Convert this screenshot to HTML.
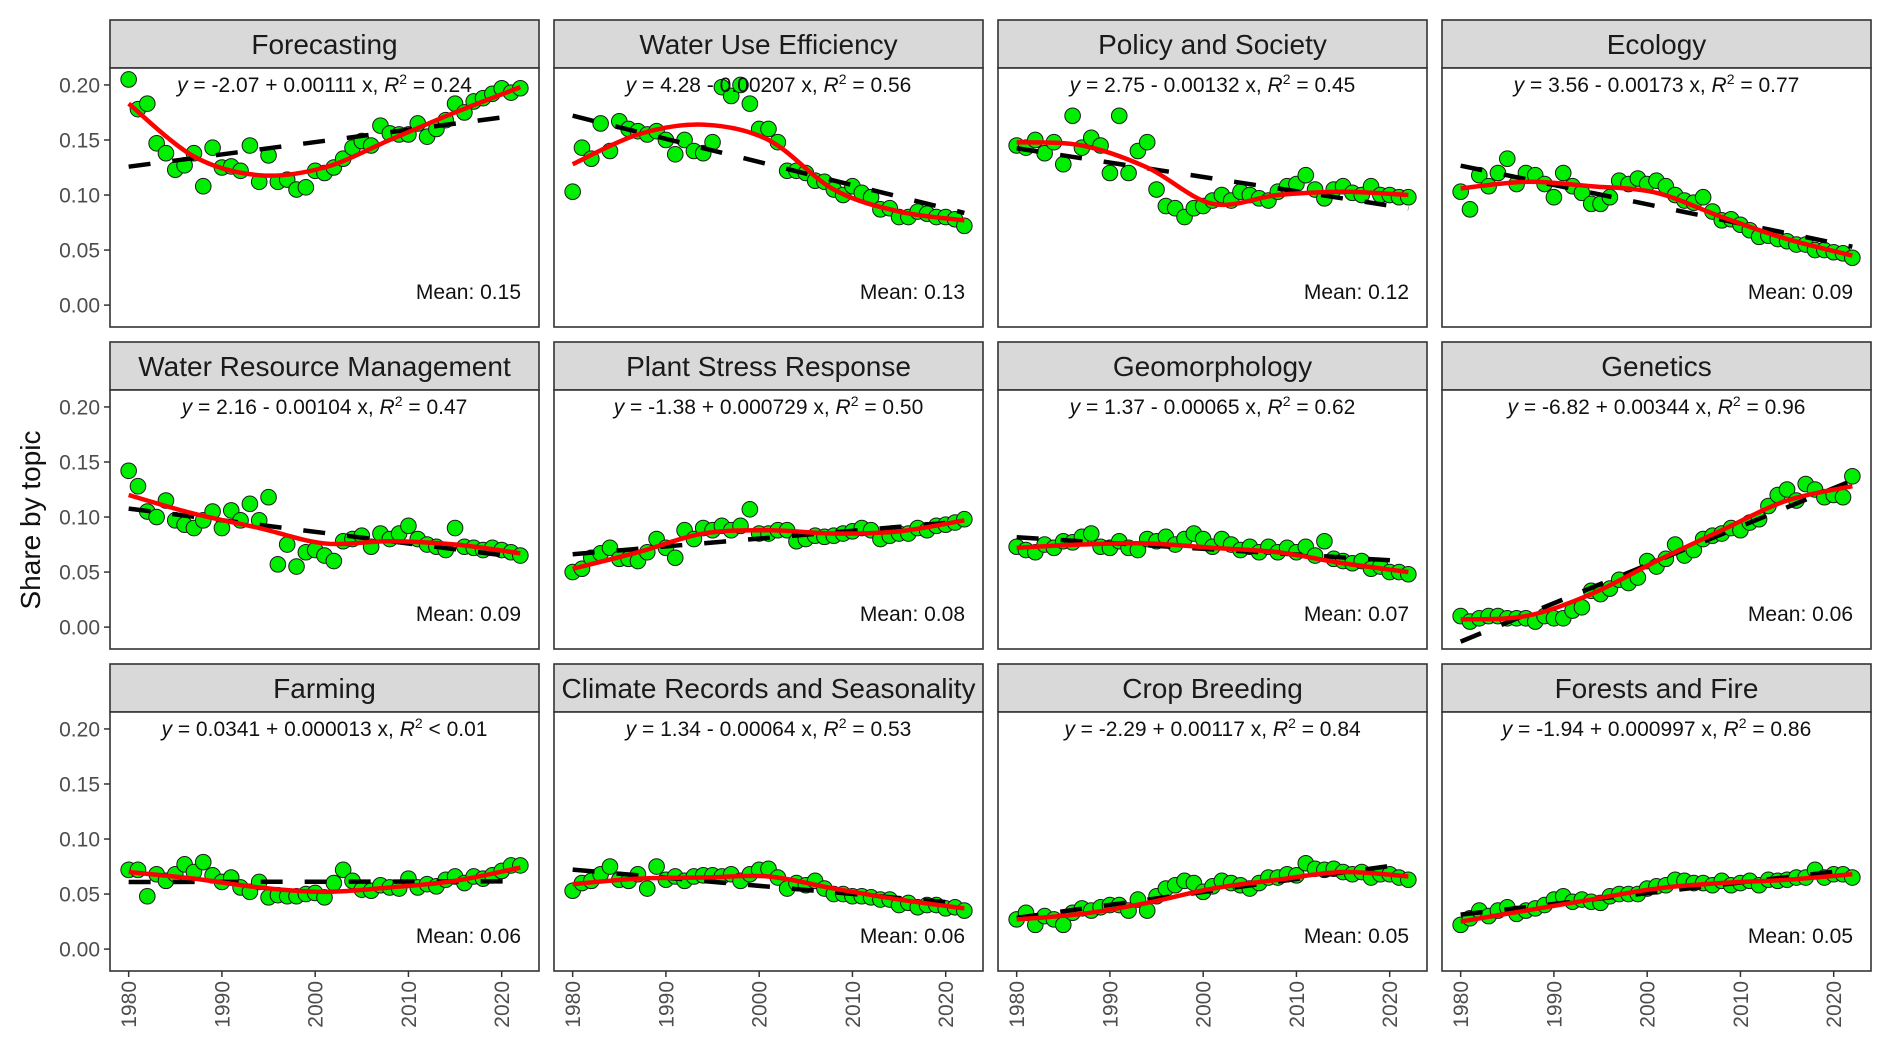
<!DOCTYPE html>
<html><head><meta charset="utf-8"><style>
html,body{margin:0;padding:0;background:#fff;}
svg{display:block;font-family:"Liberation Sans",Arial,sans-serif;}
</style></head><body>
<svg id="chart" width="1892" height="1052" viewBox="0 0 1892 1052" xmlns="http://www.w3.org/2000/svg">
<text x="0" y="0" transform="translate(40,520) rotate(-90)" text-anchor="middle" font-size="28" fill="#111">Share by topic</text>
</svg>
<script>
const years = [];
for (let y = 1980; y <= 2022; y++) years.push(y);
const titles = ["Forecasting","Water Use Efficiency","Policy and Society","Ecology","Water Resource Management","Plant Stress Response","Geomorphology","Genetics","Farming","Climate Records and Seasonality","Crop Breeding","Forests and Fire"];
const eqText = ["-2.07 + 0.00111 x","4.28 - 0.00207 x","2.75 - 0.00132 x","3.56 - 0.00173 x","2.16 - 0.00104 x","-1.38 + 0.000729 x","1.37 - 0.00065 x","-6.82 + 0.00344 x","0.0341 + 0.000013 x","1.34 - 0.00064 x","-2.29 + 0.00117 x","-1.94 + 0.000997 x"];
const r2Text = ["= 0.24","= 0.56","= 0.45","= 0.77","= 0.47","= 0.50","= 0.62","= 0.96","< 0.01","= 0.53","= 0.84","= 0.86"];
const meanText = ["0.15","0.13","0.12","0.09","0.09","0.08","0.07","0.06","0.06","0.06","0.05","0.05"];
const yTicks = [0.00, 0.05, 0.10, 0.15, 0.20];
const xTicks = [1980, 1990, 2000, 2010, 2020];
const smoothYears = [1980, 1987, 1994, 2001, 2008, 2015, 2022];
const s0 = [0.205,0.178,0.183,0.147,0.138,0.123,0.127,0.138,0.108,0.143,0.125,0.126,0.122,0.145,0.112,0.136,0.112,0.114,0.105,0.107,0.122,0.120,0.125,0.133,0.143,0.149,0.145,0.163,0.156,0.155,0.155,0.165,0.153,0.160,0.168,0.183,0.175,0.185,0.188,0.192,0.197,0.193,0.197];
const s1 = [0.103,0.143,0.133,0.165,0.140,0.167,0.160,0.158,0.155,0.158,0.150,0.137,0.150,0.140,0.138,0.148,0.198,0.190,0.200,0.183,0.160,0.160,0.148,0.122,0.122,0.120,0.113,0.112,0.105,0.100,0.108,0.102,0.098,0.087,0.088,0.080,0.080,0.085,0.083,0.080,0.080,0.078,0.072];
const s2 = [0.145,0.143,0.150,0.138,0.148,0.128,0.172,0.143,0.152,0.145,0.120,0.172,0.120,0.140,0.148,0.105,0.090,0.088,0.080,0.088,0.090,0.095,0.100,0.095,0.103,0.100,0.097,0.095,0.103,0.108,0.110,0.118,0.105,0.097,0.105,0.108,0.102,0.100,0.108,0.100,0.100,0.098,0.098];
const s3 = [0.103,0.087,0.118,0.108,0.120,0.133,0.110,0.120,0.118,0.110,0.098,0.120,0.108,0.102,0.092,0.092,0.098,0.113,0.110,0.115,0.110,0.113,0.108,0.100,0.095,0.093,0.098,0.085,0.077,0.078,0.073,0.068,0.062,0.063,0.060,0.058,0.055,0.055,0.050,0.050,0.048,0.047,0.043];
const s4 = [0.142,0.128,0.105,0.100,0.115,0.097,0.093,0.090,0.097,0.105,0.090,0.106,0.097,0.112,0.097,0.118,0.057,0.075,0.055,0.068,0.070,0.065,0.060,0.078,0.080,0.083,0.073,0.085,0.080,0.085,0.092,0.080,0.075,0.073,0.070,0.090,0.073,0.072,0.070,0.072,0.070,0.068,0.065];
const s5 = [0.050,0.053,0.063,0.067,0.072,0.062,0.062,0.060,0.068,0.080,0.072,0.063,0.088,0.080,0.090,0.088,0.092,0.088,0.092,0.107,0.085,0.085,0.088,0.088,0.078,0.080,0.083,0.082,0.083,0.085,0.087,0.090,0.088,0.080,0.083,0.085,0.085,0.090,0.088,0.092,0.093,0.095,0.098];
const s6 = [0.073,0.070,0.068,0.075,0.072,0.078,0.077,0.082,0.085,0.073,0.072,0.078,0.072,0.070,0.080,0.078,0.082,0.075,0.080,0.085,0.080,0.073,0.080,0.075,0.070,0.073,0.068,0.073,0.068,0.072,0.068,0.073,0.065,0.078,0.062,0.060,0.058,0.060,0.053,0.055,0.050,0.050,0.048];
const s7 = [0.010,0.005,0.008,0.010,0.010,0.008,0.008,0.008,0.005,0.010,0.008,0.008,0.015,0.018,0.033,0.030,0.035,0.043,0.040,0.045,0.060,0.055,0.062,0.075,0.065,0.070,0.080,0.083,0.085,0.090,0.088,0.095,0.098,0.110,0.120,0.125,0.115,0.130,0.125,0.118,0.120,0.118,0.137];
const s8 = [0.072,0.072,0.048,0.068,0.062,0.068,0.077,0.070,0.079,0.067,0.061,0.065,0.056,0.052,0.061,0.047,0.049,0.048,0.048,0.050,0.051,0.047,0.060,0.072,0.062,0.054,0.053,0.058,0.056,0.055,0.064,0.056,0.059,0.057,0.063,0.066,0.060,0.066,0.064,0.067,0.071,0.076,0.076];
const s9 = [0.053,0.060,0.062,0.068,0.075,0.063,0.062,0.068,0.055,0.075,0.063,0.066,0.062,0.066,0.067,0.067,0.066,0.068,0.062,0.068,0.072,0.073,0.065,0.055,0.060,0.058,0.062,0.055,0.050,0.050,0.048,0.048,0.047,0.045,0.045,0.040,0.042,0.038,0.040,0.040,0.037,0.038,0.035];
const s10 = [0.027,0.033,0.022,0.030,0.027,0.022,0.033,0.037,0.035,0.038,0.040,0.040,0.035,0.045,0.035,0.048,0.055,0.058,0.062,0.060,0.052,0.057,0.062,0.060,0.058,0.055,0.060,0.065,0.065,0.068,0.067,0.078,0.073,0.072,0.073,0.070,0.068,0.070,0.065,0.068,0.068,0.065,0.063];
const s11 = [0.022,0.028,0.035,0.030,0.035,0.038,0.032,0.035,0.037,0.040,0.045,0.048,0.043,0.045,0.043,0.042,0.048,0.050,0.050,0.050,0.055,0.057,0.058,0.063,0.062,0.060,0.060,0.058,0.062,0.058,0.060,0.062,0.058,0.063,0.062,0.063,0.065,0.065,0.072,0.065,0.068,0.068,0.065];
const series = [s0,s1,s2,s3,s4,s5,s6,s7,s8,s9,s10,s11];
const sm0 = [0.183,0.135,0.118,0.125,0.150,0.175,0.198];
const sm1 = [0.128,0.155,0.164,0.150,0.105,0.085,0.077];
const sm2 = [0.148,0.145,0.125,0.092,0.100,0.103,0.100];
const sm3 = [0.106,0.112,0.108,0.102,0.080,0.060,0.045];
const sm4 = [0.120,0.103,0.090,0.076,0.078,0.075,0.067];
const sm5 = [0.053,0.068,0.085,0.088,0.085,0.087,0.097];
const sm6 = [0.072,0.075,0.076,0.072,0.068,0.058,0.050];
const sm7 = [0.007,0.010,0.030,0.060,0.088,0.115,0.128];
const sm8 = [0.070,0.064,0.056,0.052,0.056,0.062,0.074];
const sm9 = [0.059,0.064,0.065,0.066,0.055,0.045,0.037];
const sm10 = [0.027,0.032,0.042,0.055,0.063,0.070,0.066];
const sm11 = [0.025,0.035,0.045,0.055,0.060,0.063,0.068];
const smooths = [sm0,sm1,sm2,sm3,sm4,sm5,sm6,sm7,sm8,sm9,sm10,sm11];

const NS = "http://www.w3.org/2000/svg";
const svg = document.getElementById("chart");
const colX = [110, 554, 998, 1442];
const panelW = 429;
const rowStrip = [20, 342, 664];
const stripH = 48;
const panelH = 259;
const yMin = -0.0199, yMax = 0.2154;
const xMin = 1978.0, xMax = 2024.0;

function mk(tag, attrs, parent) {
  const e = document.createElementNS(NS, tag);
  for (const k in attrs) e.setAttribute(k, attrs[k]);
  (parent || svg).appendChild(e);
  return e;
}
function catmull(pts) {
  let d = "M" + pts[0][0] + "," + pts[0][1];
  for (let i = 0; i < pts.length - 1; i++) {
    const p0 = pts[Math.max(0, i - 1)], p1 = pts[i], p2 = pts[i + 1], p3 = pts[Math.min(pts.length - 1, i + 2)];
    const c1x = p1[0] + (p2[0] - p0[0]) / 6, c1y = p1[1] + (p2[1] - p0[1]) / 6;
    const c2x = p2[0] - (p3[0] - p1[0]) / 6, c2y = p2[1] - (p3[1] - p1[1]) / 6;
    d += " C" + c1x + "," + c1y + " " + c2x + "," + c2y + " " + p2[0] + "," + p2[1];
  }
  return d;
}
function fit(xv, yv) {
  const n = xv.length;
  let mx = 0, my = 0;
  for (let i = 0; i < n; i++) { mx += xv[i]; my += yv[i]; }
  mx /= n; my /= n;
  let sxy = 0, sxx = 0;
  for (let i = 0; i < n; i++) { sxy += (xv[i] - mx) * (yv[i] - my); sxx += (xv[i] - mx) * (xv[i] - mx); }
  const b = sxy / sxx;
  return [my - b * mx, b];
}

for (let p = 0; p < 12; p++) {
  const col = p % 4, row = Math.floor(p / 4);
  const L = colX[col], T = rowStrip[row] + stripH, B = T + panelH;
  const xs = v => L + (v - xMin) / (xMax - xMin) * panelW;
  const ys = v => B - (v - yMin) / (yMax - yMin) * panelH;
  const g = mk("g", {});
  
  
  const strip = mk("rect", {x: L, y: rowStrip[row], width: panelW, height: stripH, fill: "#d9d9d9", stroke: "#333", "stroke-width": 1.6}, g);
  
  
  const st = mk("text", {x: L + panelW / 2, y: rowStrip[row] + 34, "text-anchor": "middle", "font-size": 28, fill: "#1a1a1a"}, g);
  st.textContent = titles[p];
  
  
  const bg = mk("rect", {x: L, y: T, width: panelW, height: panelH, fill: "#fff", stroke: "none"}, g);
  
  
  if (col === 0) {
    yTicks.forEach(t => {
      const tk = mk("line", {x1: L - 6, x2: L, y1: ys(t), y2: ys(t), stroke: "#333", "stroke-width": 1.5}, g);
      
      
      const tl = mk("text", {x: L - 10, y: ys(t) + 7.5, "text-anchor": "end", "font-size": 21, fill: "#4d4d4d"}, g);
      tl.textContent = t.toFixed(2);
      
      
    });
  }
  if (row === 2) {
    xTicks.forEach(t => {
      const tk = mk("line", {x1: xs(t), x2: xs(t), y1: B, y2: B + 6, stroke: "#333", "stroke-width": 1.5}, g);
      
      
      const tl = mk("text", {x: 0, y: 0, transform: "translate(" + (xs(t) + 7.5) + "," + (B + 10) + ") rotate(-90)", "text-anchor": "end", "font-size": 21, fill: "#4d4d4d"}, g);
      tl.textContent = t;
      
      
    });
  }
  const data = series[p];
  data.forEach((v, i) => {
    const c = mk("circle", {cx: xs(years[i]), cy: ys(v), r: 7.8, fill: "#00ee00", stroke: "#1a1a1a", "stroke-width": 1}, g);
    
    
  });
  const ab = fit(years, data);
  const x0 = years[0], x1 = years[years.length - 1];
  const lm = mk("line", {x1: xs(x0), y1: ys(ab[0] + ab[1] * x0), x2: xs(x1), y2: ys(ab[0] + ab[1] * x1), stroke: "#000", "stroke-width": 4.5, "stroke-dasharray": "22,22"}, g);
  
  
  const pts = smoothYears.map((yr, i) => [xs(yr), ys(smooths[p][i])]);
  const sp = mk("path", {d: catmull(pts), fill: "none", stroke: "#ff0000", "stroke-width": 4.5}, g);
  
  
  const fr = mk("rect", {x: L, y: T, width: panelW, height: panelH, fill: "none", stroke: "#333", "stroke-width": 1.6}, g);
  
  
  const eq = mk("text", {x: L + panelW / 2, y: T + 24, "text-anchor": "middle", "font-size": 21, fill: "#111"}, g);
  eq.innerHTML = '<tspan font-style="italic">y</tspan> = ' + eqText[p] + ', <tspan font-style="italic">R</tspan><tspan font-size="14" dy="-8">2</tspan><tspan dy="8"> ' + r2Text[p] + '</tspan>';
  
  
  const mt = mk("text", {x: L + panelW - 18, y: T + 231, "text-anchor": "end", "font-size": 21, fill: "#111"}, g);
  mt.textContent = "Mean: " + meanText[p];
  
  
}
</script>
</body></html>
